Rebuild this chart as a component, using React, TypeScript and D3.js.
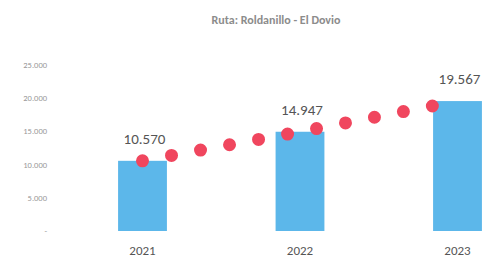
import { line, scaleLinear, scalePoint } from "d3";

const title = "Ruta: Roldanillo - El Dovio";
const years = ["2021", "2022", "2023"];
const values = [10570, 14947, 19567];
const yTicks = [0, 5000, 10000, 15000, 20000, 25000];

const fmt = (v: number) =>
  v === 0 ? "-" : v.toLocaleString("de-DE", { maximumFractionDigits: 0 });

export default function App() {
  const width = 487;
  const height = 259;

  const x = scalePoint<string>().domain(years).range([142.5, 457.5]);
  const barW = x.step() * 0.31;
  const y = scaleLinear().domain([0, 25000]).range([231, 65]);

  const trend = line<number>()
    .x((_, i) => x(years[i]) as number)
    .y((d) => y(d))(values);

  return (
    <svg
      width={width}
      height={height}
      style={{ position: "absolute", left: 0, top: 0, background: "#fff" }}
      fontFamily="Carlito, 'Liberation Sans', 'DejaVu Sans', sans-serif"
    >
      <text
        x={276}
        y={24}
        textAnchor="middle"
        fontSize={12}
        fontWeight="bold"
        fill="#8c8c8c"
      >
        {title}
      </text>

      {yTicks.map((t) => (
        <text
          key={t}
          x={47}
          y={y(t) + 3}
          textAnchor="end"
          fontSize={8.5}
          fill="#999"
        >
          {fmt(t)}
        </text>
      ))}

      {years.map((yr, i) => (
        <rect
          key={yr}
          x={(x(yr) as number) - barW / 2}
          y={y(values[i])}
          width={barW}
          height={y(0) - y(values[i])}
          fill="#5cb7ea"
        />
      ))}

      <path
        d={trend ?? ""}
        fill="none"
        stroke="#f0465e"
        strokeWidth={13}
        strokeLinecap="round"
        strokeDasharray="0 29.5"
      />

      {years.map((yr, i) => (
        <text
          key={"v" + yr}
          x={(x(yr) as number) + 2}
          y={y(values[i]) - 17}
          textAnchor="middle"
          fontSize={15}
          fill="#555"
        >
          {fmt(values[i])}
        </text>
      ))}

      {years.map((yr) => (
        <text
          key={"x" + yr}
          x={x(yr) as number}
          y={255}
          textAnchor="middle"
          fontSize={13}
          fill="#555"
        >
          {yr}
        </text>
      ))}
    </svg>
  );
}
